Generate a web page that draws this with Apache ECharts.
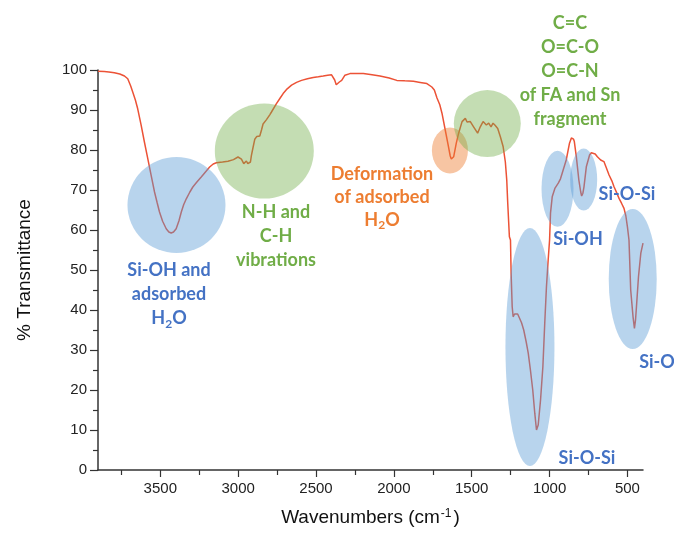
<!DOCTYPE html>
<html>
<head>
<meta charset="utf-8">
<script src="https://cdn.jsdelivr.net/npm/echarts@6/dist/echarts.min.js"></script>
<style>
  html, body { margin: 0; padding: 0; background: #ffffff; }
  #chart { width: 674px; height: 535px; }
</style>
</head>
<body>
<div id="chart"></div>
<script>
// FTIR spectrum: wavenumber (cm-1) and % transmittance
const wavenumbers = [
  3900, 3860, 3830, 3795, 3760, 3730, 3709, 3690, 3677, 3660, 3645, 3623, 3602, 3580, 3559, 3537,
  3520, 3505, 3485, 3462, 3445, 3430, 3415, 3398, 3380, 3365, 3350, 3333, 3310, 3291, 3265, 3237,
  3210, 3183, 3160, 3140, 3100, 3065, 3030, 3001, 2990, 2979, 2964, 2955, 2947, 2938, 2930, 2921,
  2915, 2905, 2893, 2880, 2861, 2850, 2840, 2818, 2797, 2786, 2754, 2730, 2711, 2685, 2657, 2625,
  2593, 2555, 2518, 2485, 2454, 2425, 2400, 2388, 2380, 2370, 2362, 2350, 2335, 2314, 2282, 2240,
  2196, 2140, 2089, 2030, 1981, 1930, 1874, 1831, 1788, 1756, 1740, 1723, 1705, 1691, 1670, 1649,
  1638, 1631, 1622, 1616, 1599, 1584, 1562, 1541, 1530, 1524, 1509, 1488, 1462, 1445, 1427, 1415,
  1406, 1391, 1376, 1363, 1350, 1333, 1316, 1298, 1284, 1275, 1269, 1258, 1251, 1247, 1240, 1234,
  1225, 1215, 1205, 1194, 1180, 1166, 1150, 1137, 1123, 1108, 1095, 1088, 1084, 1078, 1073, 1058,
  1043, 1031, 1020, 1009, 1000, 994, 983, 966, 944, 930, 919, 893, 872, 860, 854, 846,
  841, 828, 812, 800, 794, 786, 779, 764, 743, 732, 721, 707, 693, 672, 651, 635,
  618, 600, 586, 570, 554, 538, 522, 510, 500, 490, 479, 464, 455, 448, 442, 429,
  414, 400
];
const transmittance = [
  99.7, 99.6, 99.5, 99.3, 99.0, 98.5, 97.8, 96.0, 94.5, 92.5, 90.3, 86.2, 82.0, 77.8, 73.7, 69.5,
  66.8, 64.5, 62.2, 60.3, 59.5, 59.25, 59.5, 60.3, 62.3, 64.5, 66.3, 67.8, 69.5, 70.75, 72.0, 73.25,
  74.5, 75.75, 76.5, 76.8, 77.0, 77.2, 77.6, 78.25, 78.3, 77.7, 76.6, 77.0, 77.25, 76.6, 76.2, 77.0,
  78.6, 80.5, 82.7, 83.4, 83.5, 85.0, 86.5, 87.6, 88.8, 89.5, 91.6, 93.0, 94.1, 95.3, 96.2, 96.9,
  97.4, 97.8, 98.1, 98.3, 98.5, 98.7, 98.8, 98.6, 97.5, 96.3, 96.5, 97.0, 97.4, 98.7, 99.1, 99.1,
  99.1, 98.8, 98.5, 98.0, 97.4, 97.3, 97.2, 96.9, 96.6, 95.75, 95.0, 93.0, 91.3, 89.2, 85.0, 80.8,
  78.5, 77.75, 78.0, 78.3, 81.7, 84.2, 87.1, 87.9, 87.0, 86.7, 87.1, 85.8, 84.2, 85.8, 87.1, 86.8,
  86.25, 86.7, 85.8, 86.7, 86.2, 85.4, 83.3, 80.8, 77.0, 72.5, 67.0, 58.3, 57.5, 49.2, 40.8, 38.3,
  39.0, 39.3, 39.0, 38.5, 36.8, 35.0, 32.0, 29.2, 25.0, 20.0, 14.2, 11.5, 10.0, 10.5, 11.25, 17.5,
  25.8, 36.7, 45.8, 52.5, 57.5, 64.2, 68.3, 70.4, 71.7, 72.8, 74.2, 77.5, 81.7, 83.0, 83.2, 82.7,
  82.1, 78.3, 72.5, 69.5, 68.5, 69.2, 70.8, 75.8, 78.75, 79.3, 79.4, 79.0, 78.3, 77.5, 77.1, 75.5,
  73.75, 72.3, 70.8, 69.4, 67.9, 66.7, 65.4, 63.5, 60.8, 57.5, 45.0, 38.3, 35.4, 37.5, 40.8, 48.3,
  54.2, 56.7
];

// Axis ticks
const xMajorTicks = [500, 1000, 1500, 2000, 2500, 3000, 3500];
const xMinorTicks = [750, 1250, 1750, 2250, 2750, 3250, 3750];

// Highlighted absorption regions (centre wavenumber, centre transmittance)
const bandNames = ['Si-OH / H2O', 'N-H / C-H', 'H2O deformation', 'C=C / O=C-O / O=C-N',
                   'Si-OH', 'Si-O-Si (800)', 'Si-O-Si (1100)', 'Si-O'];
const bandWavenumber = [3396, 2832, 1640, 1400, 949, 781, 1126, 466];
const bandTransmittance = [66.25, 79.75, 79.9, 86.6, 70.3, 72.6, 30.75, 47.75];

// Shape styling for the highlight ellipses (pixel sizes + colours)
const BLUE = 'rgba(91,155,213,0.54)';
const GREEN = 'rgba(112,173,71,0.52)';
const ORANGE = 'rgba(237,125,49,0.56)';
const bandStyle = [
  { size: [98, 96], color: BLUE },
  { size: [99, 95], color: GREEN },
  { size: [36, 46], color: ORANGE },
  { size: [67, 67], color: GREEN },
  { size: [32, 76], color: BLUE },
  { size: [27, 62], color: BLUE },
  { size: [49, 238], color: BLUE },
  { size: [48, 140], color: BLUE }
];

const TXT_BLUE = '#4472C4';
const TXT_GREEN = '#70AD47';
const TXT_ORANGE = '#ED7D31';
const AXIS_COLOR = '#333333';

function note(text, x, y, color, lh) {
  return {
    type: 'text',
    z: 10,
    style: {
      text: text,
      x: x,
      y: y,
      fill: color,
      fontFamily: 'Lato',
      fontWeight: 'bold',
      fontSize: 18,
      lineHeight: lh || 24,
      align: 'center',
      verticalAlign: 'middle',
      rich: {
        t: { fontFamily: 'Lato', fontWeight: 'bold', fontSize: 18, lineHeight: lh || 24, fill: color },
        sub: { fontFamily: 'Lato', fontWeight: 'bold', fontSize: 12, lineHeight: 12, verticalAlign: 'bottom', fill: color }
      }
    }
  };
}

const chart = echarts.init(document.getElementById('chart'), null, { renderer: 'canvas' });

const spectrum = wavenumbers.map((w, i) => [w, transmittance[i]]);
const bands = bandWavenumber.map((w, i) => ({
  name: bandNames[i],
  value: [w, bandTransmittance[i]],
  symbolSize: bandStyle[i].size,
  itemStyle: { color: bandStyle[i].color }
}));

const option = {
  backgroundColor: '#ffffff',
  animation: false,
  grid: { left: 98, right: 31, top: 70, bottom: 65, containLabel: false },
  xAxis: [
    {
      type: 'value',
      min: 400,
      max: 3900,
      inverse: true,
      position: 'bottom',
      name: 'Wavenumbers (cm{sup|-1})',
      nameLocation: 'middle',
      nameGap: 38,
      nameTextStyle: {
        fontFamily: 'Liberation Sans',
        fontSize: 19,
        color: '#111',
        rich: {
          sup: { fontFamily: 'Liberation Sans', fontSize: 12, verticalAlign: 'top', color: '#111', padding: [0, 2, 0, 1] }
        }
      },
      axisLine: { show: true, onZero: false, lineStyle: { color: AXIS_COLOR, width: 1.5 } },
      axisTick: { show: true, length: 7, customValues: xMajorTicks, lineStyle: { color: AXIS_COLOR, width: 1.2 } },
      axisLabel: {
        customValues: xMajorTicks,
        formatter: (v) => String(v),
        margin: 11,
        fontFamily: 'Liberation Sans',
        fontSize: 15,
        color: '#222'
      },
      splitLine: { show: false }
    },
    {
      type: 'value',
      min: 400,
      max: 3900,
      inverse: true,
      position: 'bottom',
      axisLine: { show: false, onZero: false },
      axisTick: { show: true, length: 5, customValues: xMinorTicks, lineStyle: { color: AXIS_COLOR, width: 1.2 } },
      axisLabel: { show: false, customValues: xMinorTicks },
      splitLine: { show: false }
    }
  ],
  yAxis: {
    type: 'value',
    min: 0,
    max: 100,
    interval: 10,
    name: '% Transmittance',
    nameLocation: 'middle',
    nameGap: 64,
    nameTextStyle: { fontFamily: 'Liberation Sans', fontSize: 19, color: '#111' },
    axisLine: { show: true, lineStyle: { color: AXIS_COLOR, width: 1.5 } },
    axisTick: { show: true, length: 8, lineStyle: { color: AXIS_COLOR, width: 1.2 } },
    minorTick: { show: true, splitNumber: 2, length: 5, lineStyle: { color: AXIS_COLOR, width: 1.2 } },
    axisLabel: { margin: 11, formatter: (v) => String(v), fontFamily: 'Liberation Sans', fontSize: 15, color: '#222' },
    splitLine: { show: false }
  },
  series: [
    {
      type: 'line',
      name: 'spectrum',
      data: spectrum,
      xAxisIndex: 0,
      showSymbol: false,
      smooth: false,
      lineStyle: { color: '#EC5236', width: 1.5 },
      z: 2,
      silent: true
    },
    {
      type: 'scatter',
      name: 'bands',
      data: bands,
      xAxisIndex: 0,
      symbol: 'circle',
      clip: false,
      z: 3,
      silent: true
    }
  ],
  graphic: [
    note('{t|Si-OH and}\n{t|adsorbed}\n{t|H}{sub|2}{t|O}', 169, 294, TXT_BLUE),
    note('{t|N-H and}\n{t|C-H}\n{t|vibrations}', 276, 236, TXT_GREEN),
    note('{t|Deformation}\n{t|of adsorbed}\n{t|H}{sub|2}{t|O}', 382, 197, TXT_ORANGE, 23),
    note('{t|C=C}\n{t|O=C-O}\n{t|O=C-N}\n{t|of FA and Sn}\n{t|fragment}', 570, 71, TXT_GREEN),
    note('{t|Si-OH}', 578, 239, TXT_BLUE),
    note('{t|Si-O-Si}', 627, 194, TXT_BLUE),
    note('{t|Si-O-Si}', 587, 458, TXT_BLUE),
    note('{t|Si-O}', 657, 362, TXT_BLUE)
  ]
};

chart.setOption(option);
</script>
</body>
</html>
